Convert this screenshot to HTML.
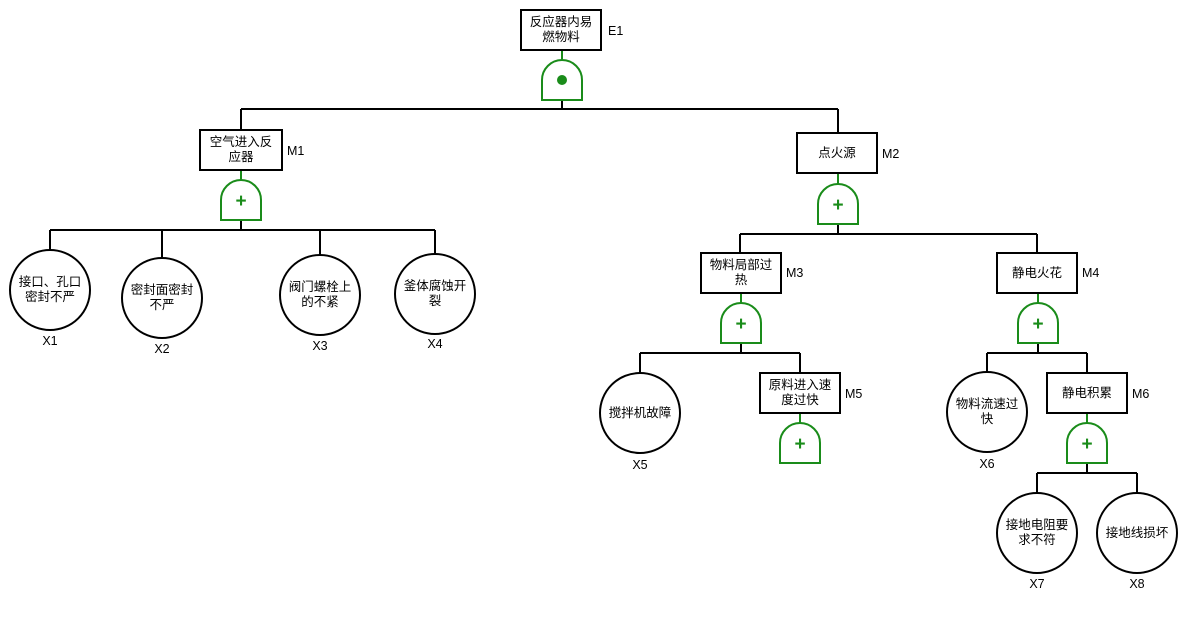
<!DOCTYPE html>
<html><head><meta charset="utf-8"><style>
html,body{margin:0;padding:0;background:#fff;}
svg{display:block;}
text{font-family:"Liberation Sans","Noto Sans CJK SC",sans-serif;font-size:12.5px;fill:#000;}
.b{fill:#fff;stroke:#000;stroke-width:2;}
.l{stroke:#000;stroke-width:2;fill:none;}
.g{fill:#fff;stroke:#1a8c1a;stroke-width:2;}
.gl{stroke:#1a8c1a;stroke-width:2;}
.p{fill:#1a8c1a;font-size:19px;font-weight:bold;}
</style></head><body>
<svg width="1187" height="633" viewBox="0 0 1187 633">
<defs>
<g id="gate"><path class="g" d="M0,40 L0,20 A20,20 0 0 1 40,20 L40,40 Z"/></g>
</defs>
<g class="l">
<line x1="562" y1="100" x2="562" y2="109"/>
<line x1="241" y1="109" x2="838" y2="109"/>
<line x1="241" y1="109" x2="241" y2="130"/>
<line x1="838" y1="109" x2="838" y2="133"/>
<line x1="241" y1="220" x2="241" y2="230"/>
<line x1="50" y1="230" x2="435" y2="230"/>
<line x1="50" y1="230" x2="50" y2="250"/>
<line x1="162" y1="230" x2="162" y2="258"/>
<line x1="320" y1="230" x2="320" y2="258"/>
<line x1="435" y1="230" x2="435" y2="255"/>
<line x1="838" y1="224" x2="838" y2="234"/>
<line x1="740" y1="234" x2="1037" y2="234"/>
<line x1="740" y1="234" x2="740" y2="253"/>
<line x1="1037" y1="234" x2="1037" y2="253"/>
<line x1="741" y1="343" x2="741" y2="353"/>
<line x1="640" y1="353" x2="800" y2="353"/>
<line x1="640" y1="353" x2="640" y2="373"/>
<line x1="800" y1="353" x2="800" y2="373"/>
<line x1="1038" y1="343" x2="1038" y2="353"/>
<line x1="987" y1="353" x2="1087" y2="353"/>
<line x1="987" y1="353" x2="987" y2="373"/>
<line x1="1087" y1="353" x2="1087" y2="373"/>
<line x1="1087" y1="463" x2="1087" y2="473"/>
<line x1="1037" y1="473" x2="1137" y2="473"/>
<line x1="1037" y1="473" x2="1037" y2="493"/>
<line x1="1137" y1="473" x2="1137" y2="493"/>
</g>
<g class="gl">
<line x1="562" y1="50" x2="562" y2="60"/>
<line x1="241" y1="170" x2="241" y2="180"/>
<line x1="838" y1="173" x2="838" y2="184"/>
<line x1="741" y1="293" x2="741" y2="303"/>
<line x1="800" y1="413" x2="800" y2="423"/>
<line x1="1038" y1="293" x2="1038" y2="303"/>
<line x1="1087" y1="413" x2="1087" y2="423"/>
</g>
<use href="#gate" x="542" y="60"/><circle cx="562" cy="80" r="5" fill="#1a8c1a"/>
<use href="#gate" x="221" y="180"/><text class="p" x="241" y="207" text-anchor="middle">+</text>
<use href="#gate" x="818" y="184"/><text class="p" x="838" y="211" text-anchor="middle">+</text>
<use href="#gate" x="721" y="303"/><text class="p" x="741" y="330" text-anchor="middle">+</text>
<use href="#gate" x="780" y="423"/><text class="p" x="800" y="450" text-anchor="middle">+</text>
<use href="#gate" x="1018" y="303"/><text class="p" x="1038" y="330" text-anchor="middle">+</text>
<use href="#gate" x="1067" y="423"/><text class="p" x="1087" y="450" text-anchor="middle">+</text>
<rect class="b" x="521" y="10" width="80" height="40"/>
<text x="561" y="26" text-anchor="middle">反应器内易</text><text x="561" y="41" text-anchor="middle">燃物料</text>
<text x="608" y="35">E1</text>
<rect class="b" x="200" y="130" width="82" height="40"/>
<text x="241" y="146" text-anchor="middle">空气进入反</text><text x="241" y="161" text-anchor="middle">应器</text>
<text x="287" y="155">M1</text>
<rect class="b" x="797" y="133" width="80" height="40"/>
<text x="837" y="157" text-anchor="middle">点火源</text>
<text x="882" y="158">M2</text>
<rect class="b" x="701" y="253" width="80" height="40"/>
<text x="741" y="269" text-anchor="middle">物料局部过</text><text x="741" y="284" text-anchor="middle">热</text>
<text x="786" y="277">M3</text>
<rect class="b" x="997" y="253" width="80" height="40"/>
<text x="1037" y="277" text-anchor="middle">静电火花</text>
<text x="1082" y="277">M4</text>
<rect class="b" x="760" y="373" width="80" height="40"/>
<text x="800" y="389" text-anchor="middle">原料进入速</text><text x="800" y="404" text-anchor="middle">度过快</text>
<text x="845" y="398">M5</text>
<rect class="b" x="1047" y="373" width="80" height="40"/>
<text x="1087" y="397" text-anchor="middle">静电积累</text>
<text x="1132" y="398">M6</text>
<circle class="b" cx="50" cy="290" r="40"/>
<text x="50" y="286" text-anchor="middle">接口、孔口</text><text x="50" y="301" text-anchor="middle">密封不严</text>
<text x="50" y="345" text-anchor="middle">X1</text>
<circle class="b" cx="162" cy="298" r="40"/>
<text x="162" y="294" text-anchor="middle">密封面密封</text><text x="162" y="309" text-anchor="middle">不严</text>
<text x="162" y="353" text-anchor="middle">X2</text>
<circle class="b" cx="320" cy="295" r="40"/>
<text x="320" y="291" text-anchor="middle">阀门螺栓上</text><text x="320" y="306" text-anchor="middle">的不紧</text>
<text x="320" y="350" text-anchor="middle">X3</text>
<circle class="b" cx="435" cy="294" r="40"/>
<text x="435" y="290" text-anchor="middle">釜体腐蚀开</text><text x="435" y="305" text-anchor="middle">裂</text>
<text x="435" y="348" text-anchor="middle">X4</text>
<circle class="b" cx="640" cy="413" r="40"/>
<text x="640" y="417" text-anchor="middle">搅拌机故障</text>
<text x="640" y="469" text-anchor="middle">X5</text>
<circle class="b" cx="987" cy="412" r="40"/>
<text x="987" y="408" text-anchor="middle">物料流速过</text><text x="987" y="423" text-anchor="middle">快</text>
<text x="987" y="468" text-anchor="middle">X6</text>
<circle class="b" cx="1037" cy="533" r="40"/>
<text x="1037" y="529" text-anchor="middle">接地电阻要</text><text x="1037" y="544" text-anchor="middle">求不符</text>
<text x="1037" y="588" text-anchor="middle">X7</text>
<circle class="b" cx="1137" cy="533" r="40"/>
<text x="1137" y="537" text-anchor="middle">接地线损坏</text>
<text x="1137" y="588" text-anchor="middle">X8</text>
</svg>
</body></html>
